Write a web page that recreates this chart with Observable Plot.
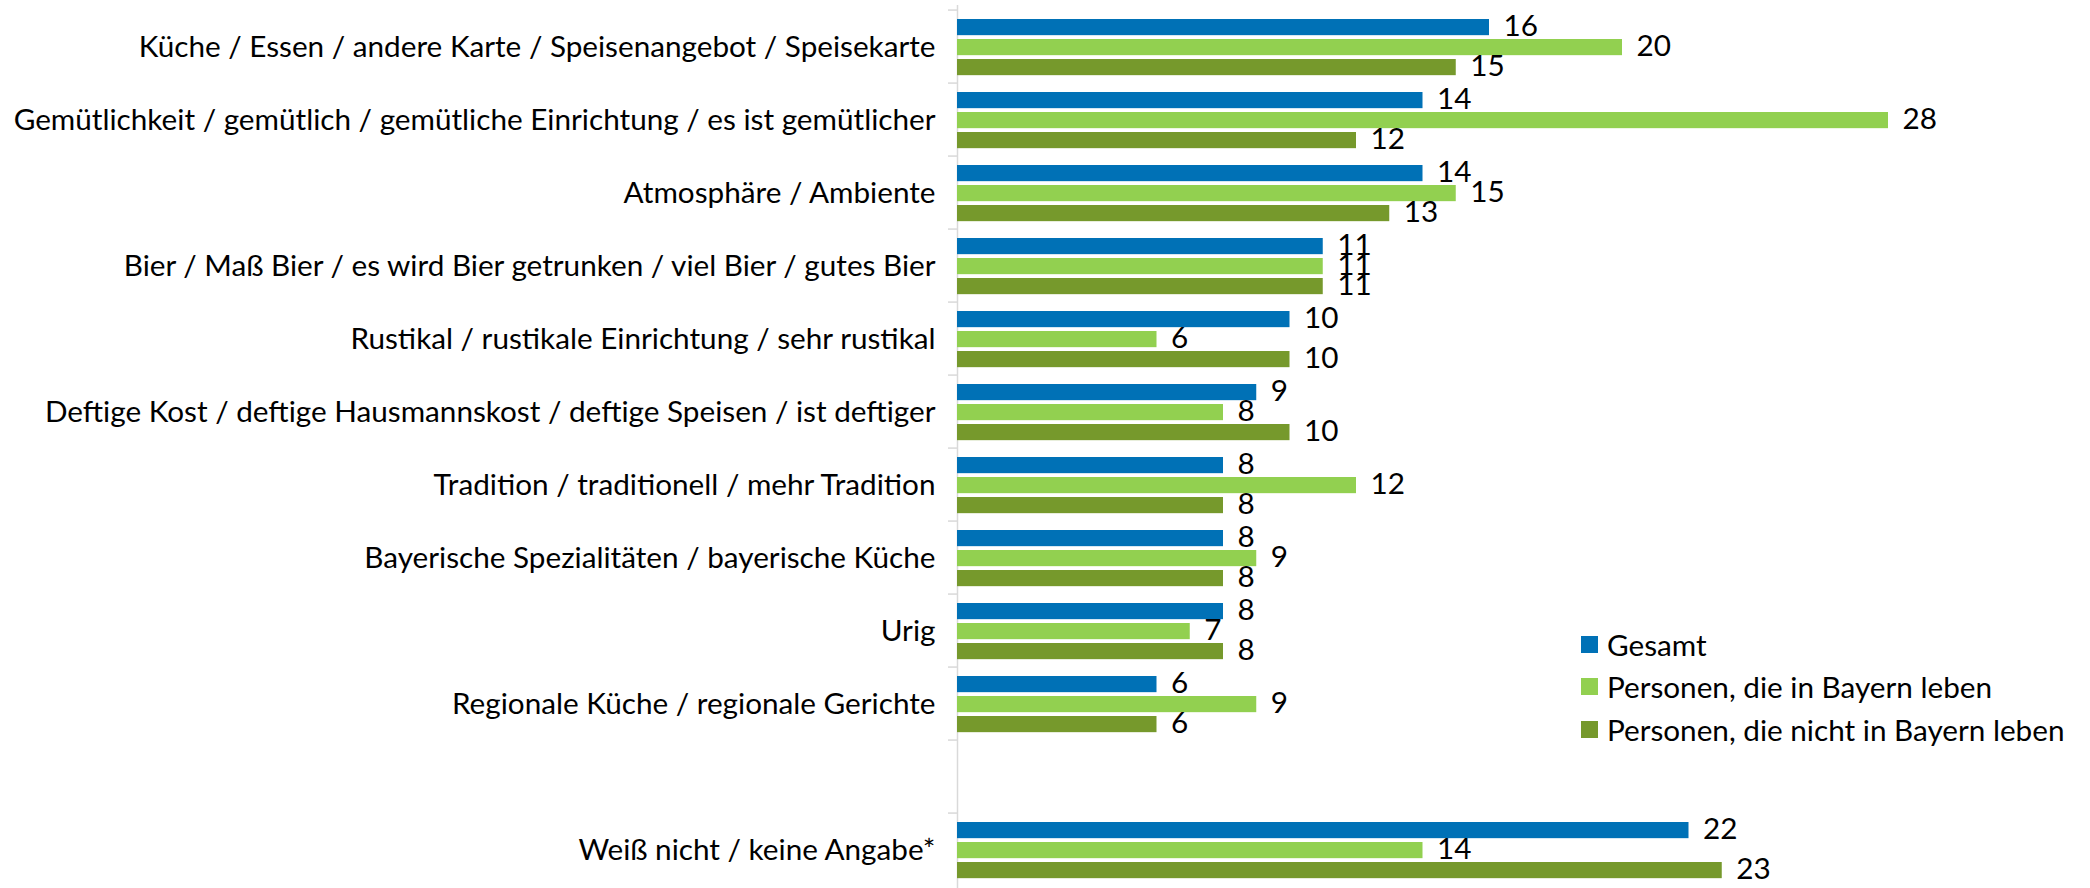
<!DOCTYPE html>
<html><head><meta charset="utf-8">
<script src="https://cdn.jsdelivr.net/npm/d3@7"></script>
<script src="https://cdn.jsdelivr.net/npm/@observablehq/plot@0.6"></script>
<style>
body{margin:0;background:#fff;}
#wrap{position:relative;width:2090px;height:888px;}
.legend{position:absolute;left:1581px;top:623px;font-family:Lato,sans-serif;font-size:29.7px;color:#000;}
.legend .row{display:flex;align-items:center;height:42.5px;white-space:nowrap;}
.legend .sw{width:17px;height:17px;margin-right:9px;flex:none;}
</style></head>
<body><div id="wrap"></div>
<script>
const categories = [
  "Küche / Essen / andere Karte / Speisenangebot / Speisekarte",
  "Gemütlichkeit / gemütlich / gemütliche Einrichtung / es ist gemütlicher",
  "Atmosphäre / Ambiente",
  "Bier / Maß Bier / es wird Bier getrunken / viel Bier / gutes Bier",
  "Rustikal / rustikale Einrichtung / sehr rustikal",
  "Deftige Kost / deftige Hausmannskost / deftige Speisen / ist deftiger",
  "Tradition / traditionell / mehr Tradition",
  "Bayerische Spezialitäten / bayerische Küche",
  "Urig",
  "Regionale Küche / regionale Gerichte",
  "Weiß nicht / keine Angabe*"
];
const series = ["Gesamt", "Personen, die in Bayern leben", "Personen, die nicht in Bayern leben"];
const colors = ["#0071b6", "#92d050", "#76992c"];
const gesamt      = [16, 14, 14, 11, 10,  9,  8, 8, 8, 6, 22];
const bayern      = [20, 28, 15, 11,  6,  8, 12, 9, 7, 9, 14];
const nichtBayern = [15, 12, 13, 11, 10, 10,  8, 8, 8, 6, 23];
const values = [gesamt, bayern, nichtBayern];

const gap = "";
const yDomain = [...categories.slice(0, 10), gap, categories[10]];
const rows = categories.flatMap((c, i) => series.map((s, k) => ({category: c, series: s, k, value: values[k][i]})));

const W = 2090, H = 888, mTop = 5, mBottom = -3;
const bw = (H - mTop - mBottom) / yDomain.length;
const barH = 17, barStep = 20;
const dyOf = k => 17.5 + barStep * k - bw / 2;
const inset = (bw - barH) / 2;
const FS = 29.7;

const plot = Plot.plot({
  width: W, height: H,
  marginLeft: 957, marginRight: 135.5, marginTop: mTop, marginBottom: mBottom,
  style: {fontFamily: "Lato, sans-serif", fontSize: FS + "px", background: "#fff", color: "#000"},
  x: {domain: [0, 30], axis: null},
  y: {type: "band", domain: yDomain, padding: 0, axis: null},
  marks: [
    Plot.ruleX([0], {stroke: "#d9d9d9", strokeWidth: 1.5}),
    Plot.axisY({tickSize: 9, tickFormat: () => "", label: null, dy: -bw / 2, stroke: "#d9d9d9", strokeWidth: 1.5}),
    Plot.axisY({tickSize: 0, tickPadding: 22, label: null, fill: "#000"}),
    ...series.map((s, k) => Plot.barX(rows.filter(r => r.k === k), {
      x: "value", y: "category", fill: colors[k], insetTop: inset, insetBottom: inset, dy: dyOf(k)
    })),
    ...series.map((s, k) => Plot.text(rows.filter(r => r.k === k), {
      x: "value", y: "category", text: d => String(d.value), textAnchor: "start",
      dx: 14, dy: dyOf(k) - 1, fill: "#000", fontSize: FS
    }))
  ]
});
const wrap = document.getElementById("wrap");
wrap.appendChild(plot);
const lg = document.createElement("div");
lg.className = "legend";
series.forEach((s, k) => {
  const r = document.createElement("div"); r.className = "row";
  const sw = document.createElement("span"); sw.className = "sw"; sw.style.background = colors[k];
  const t = document.createElement("span"); t.textContent = s;
  r.appendChild(sw); r.appendChild(t); lg.appendChild(r);
});
wrap.appendChild(lg);
</script>
</body></html>
